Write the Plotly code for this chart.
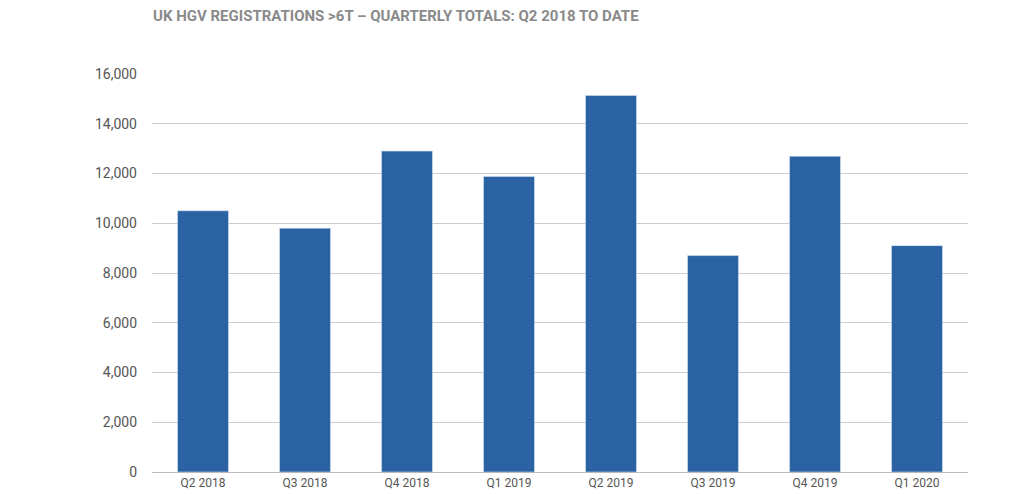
import plotly.graph_objects as go

quarters = ["Q2 2018", "Q3 2018", "Q4 2018", "Q1 2019", "Q2 2019", "Q3 2019", "Q4 2019", "Q1 2020"]
registrations = [10500, 9800, 12900, 11880, 15140, 8700, 12690, 9100]
y_ticks = [0, 2000, 4000, 6000, 8000, 10000, 12000, 14000, 16000]

fig = go.Figure(go.Bar(x=quarters, y=registrations, marker_color="#2a62a4", width=0.5))
fig.update_layout(
    width=1024, height=494, plot_bgcolor="white", paper_bgcolor="white",
    margin=dict(l=144, r=64, t=66, b=22),
    showlegend=False,
    font=dict(family="Roboto", color="#555555", size=13),
    title=dict(text="<b>UK HGV REGISTRATIONS &gt;6T – QUARTERLY TOTALS: Q2 2018 TO DATE</b>",
               x=145/1024, xanchor="left", y=1-8/494, yanchor="middle",
               font=dict(size=15, color="#8a8a8a")),
)
fig.update_xaxes(showline=True, linecolor="#bbbbbb", linewidth=1, ticks="", tickfont=dict(size=12, color="#555555"))
fig.update_yaxes(range=[0, 16000], tickvals=y_ticks, tickformat=",", gridcolor="#cccccc",
                 zeroline=False, ticks="", ticklabelstandoff=14, tickfont=dict(size=14, color="#555555"))
fig.write_html("out.html")
